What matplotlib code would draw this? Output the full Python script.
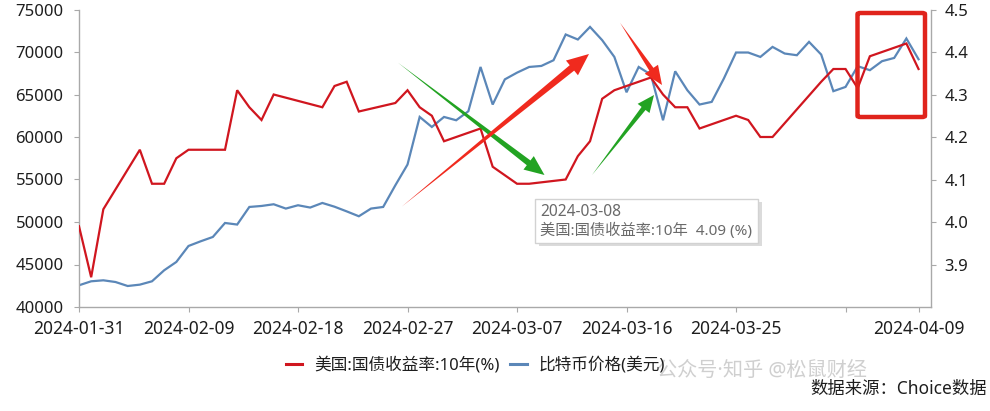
import matplotlib
matplotlib.use('Agg')
import matplotlib.pyplot as plt
from matplotlib.patches import Polygon, FancyBboxPatch
from matplotlib.lines import Line2D
import pandas as pd
import numpy as np

plt.rcParams['font.family'] = ['Noto Sans', 'Noto Sans CJK SC']

# ---------------- data ----------------
yield_dates = ['2024-01-31', '2024-02-01', '2024-02-02', '2024-02-05', '2024-02-06',
               '2024-02-07', '2024-02-08', '2024-02-09', '2024-02-12', '2024-02-13',
               '2024-02-14', '2024-02-15', '2024-02-16', '2024-02-20', '2024-02-21',
               '2024-02-22', '2024-02-23', '2024-02-26', '2024-02-27', '2024-02-28',
               '2024-02-29', '2024-03-01', '2024-03-04', '2024-03-05', '2024-03-06',
               '2024-03-07', '2024-03-08', '2024-03-11', '2024-03-12', '2024-03-13',
               '2024-03-14', '2024-03-15', '2024-03-18', '2024-03-19', '2024-03-20',
               '2024-03-21', '2024-03-22', '2024-03-25', '2024-03-26', '2024-03-27',
               '2024-03-28', '2024-04-01', '2024-04-02', '2024-04-03', '2024-04-04',
               '2024-04-05', '2024-04-08', '2024-04-09']
yield_values = [3.99, 3.87, 4.03, 4.17, 4.09, 4.09, 4.15, 4.17, 4.17, 4.31,
                4.27, 4.24, 4.30, 4.27, 4.32, 4.33, 4.26, 4.28, 4.31, 4.27,
                4.25, 4.19, 4.22, 4.13, 4.11, 4.09, 4.09, 4.10, 4.155, 4.19,
                4.29, 4.31, 4.34, 4.30, 4.27, 4.27, 4.22, 4.25, 4.24, 4.20,
                4.20, 4.33, 4.36, 4.36, 4.315, 4.39, 4.42, 4.36]

btc_start = '2024-01-31'
btc_values = [42554, 43025, 43140, 42940, 42470, 42630, 43025, 44320, 45300, 47180,
              47730, 48240, 49886, 49700, 51770, 51887, 52087, 51580, 51970, 51700,
              52240, 51800, 51250, 50675, 51580, 51770, 54320, 56760, 62360, 61180,
              62360, 61970, 63030, 68240, 63820, 66780, 67570, 68240, 68360, 69030,
              72060, 71470, 72950, 71390, 69420, 65260, 68240, 67340, 61970, 67730,
              65500, 63820, 64130, 66880, 69940, 69940, 69420, 70600, 69820, 69620,
              71190, 69700, 65390, 65890, 68330, 67860, 68920, 69300, 71590, 69150]

tick_dates = ['2024-01-31', '2024-02-09', '2024-02-18', '2024-02-27', '2024-03-07',
              '2024-03-16', '2024-03-25', '2024-04-03', '2024-04-09']
tick_labels = ['2024-01-31', '2024-02-09', '2024-02-18', '2024-02-27', '2024-03-07',
               '2024-03-16', '2024-03-25', '', '2024-04-09']
left_ticks = [40000, 45000, 50000, 55000, 60000, 65000, 70000, 75000]
right_ticks = [3.9, 4.0, 4.1, 4.2, 4.3, 4.4, 4.5]
series_names = ['美国:国债收益率:10年(%)', '比特币价格(美元)']
tooltip_date = '2024-03-08'
tooltip_value = 4.09
source_text = '数据来源：Choice数据'
watermark = '公众号·知乎 @松鼠财经'

RED = '#d0161f'
BLUE = '#5b87b8'
AXC = '#a9a9a9'
TXT = '#1e1e1e'

# ---------------- figure ----------------
W, H = 990, 411
fig = plt.figure(figsize=(W / 100, H / 100), dpi=100)
fig.patch.set_facecolor('white')
ax = fig.add_axes([79 / W, 1 - 307 / H, (930.7 - 79) / W, (307 - 9.5) / H])
ax2 = ax.twinx()

btc_dates = pd.date_range(btc_start, periods=len(btc_values), freq='D')
ydates = pd.to_datetime(yield_dates)

l_btc, = ax.plot(btc_dates, btc_values, color=BLUE, lw=1.6, solid_joinstyle='miter')
l_yld, = ax2.plot(ydates, yield_values, color=RED, lw=1.6, solid_joinstyle='miter')

ax.set_xlim(pd.Timestamp('2024-01-31'), pd.Timestamp('2024-04-10'))
ax.set_ylim(40000, 75000)
ax2.set_ylim(3.8, 4.5)
ax.set_yticks(left_ticks)
ax.set_yticklabels([str(v) for v in left_ticks])
ax2.set_yticks(right_ticks)
ax2.set_yticklabels(['%.1f' % v for v in right_ticks])
ax.set_xticks(pd.to_datetime(tick_dates))
ax.set_xticklabels(tick_labels)

for a in (ax, ax2):
    for s in a.spines.values():
        s.set_color(AXC)
        s.set_linewidth(1.0)
    a.spines['top'].set_visible(False)
ax.spines['right'].set_visible(False)
ax2.spines['left'].set_visible(False)
ax2.spines['bottom'].set_visible(False)

ax.tick_params(axis='y', length=3.6, width=0.8, color=AXC, labelsize=12, labelcolor=TXT, pad=7.5)
ax.tick_params(axis='x', length=3.6, width=0.8, color=AXC, labelsize=12.5, labelcolor=TXT, pad=5.5)
ax2.tick_params(axis='y', length=3.6, width=0.8, color=AXC, labelsize=12, labelcolor=TXT, pad=6.5)


def P(x, y):
    return (x / W, 1 - y / H)


def tapered_arrow(tail, tip, body_w, head_w, head_len, color):
    t = np.array(tail, float)
    p = np.array(tip, float)
    u = (p - t) / np.linalg.norm(p - t)
    n = np.array([-u[1], u[0]])
    b = p - u * head_len
    pts = [t, b + n * body_w / 2, b + n * head_w / 2, p, b - n * head_w / 2, b - n * body_w / 2]
    poly = Polygon([P(*q) for q in pts], closed=True, transform=fig.transFigure,
                   facecolor=color, edgecolor='none', zorder=10)
    fig.add_artist(poly)


GREEN = '#22a322'
ARED = '#f02a1e'
tapered_arrow((398, 62.7), (544.5, 175), 6, 17, 20, GREEN)
tapered_arrow((401.7, 206.7), (589, 54), 7, 19, 22, ARED)
tapered_arrow((592, 175), (654, 95), 5, 15, 17, GREEN)
tapered_arrow((620, 22.7), (662, 85), 5, 16, 19, ARED)

# red highlight box
fig.add_artist(FancyBboxPatch(P(857.5, 117), (925 - 857.5) / W, (117 - 13) / H,
                              boxstyle='round,pad=0,rounding_size=0.003',
                              transform=fig.transFigure, facecolor='none',
                              edgecolor='#e0241c', lw=3.2, zorder=11))

# tooltip
fig.add_artist(FancyBboxPatch(P(538.5, 246.5), 223 / W, 44 / H, boxstyle='square,pad=0',
                              transform=fig.transFigure, facecolor='#9a9a9a',
                              edgecolor='none', alpha=0.35, zorder=12))
fig.add_artist(FancyBboxPatch(P(535, 243), 223 / W, 44 / H, boxstyle='square,pad=0',
                              transform=fig.transFigure, facecolor='white',
                              edgecolor='#d2d2d2', lw=1.0, zorder=13))
fig.text(*P(540, 211.5), tooltip_date, ha='left', va='center', fontsize=11.2,
         color='#6a6a6a', zorder=14)
fig.text(*P(540, 231), '%s  %.2f (%%)' % (series_names[0].replace('(%)', ''), tooltip_value),
         ha='left', va='center', fontsize=11.0, color='#6a6a6a', zorder=14)

# legend
h_red = Line2D([], [], color=RED, lw=2.2)
h_blue = Line2D([], [], color=BLUE, lw=2.2)
fig.legend([h_red, h_blue], series_names, loc='center', bbox_to_anchor=P(475.3, 365),
           ncol=2, frameon=False, fontsize=12, handlelength=1.0, handletextpad=0.7,
           columnspacing=0.65, borderaxespad=0, borderpad=0, labelcolor=TXT)

# watermark + source
fig.text(*P(762, 371), watermark, ha='center', va='center', fontsize=14.5,
         color='#c4c4c4', alpha=0.8)
fig.text(*P(986.7, 389), source_text, ha='right', va='center', fontsize=12.5, color=TXT)

fig.savefig('out.png', dpi=100, facecolor='white')
